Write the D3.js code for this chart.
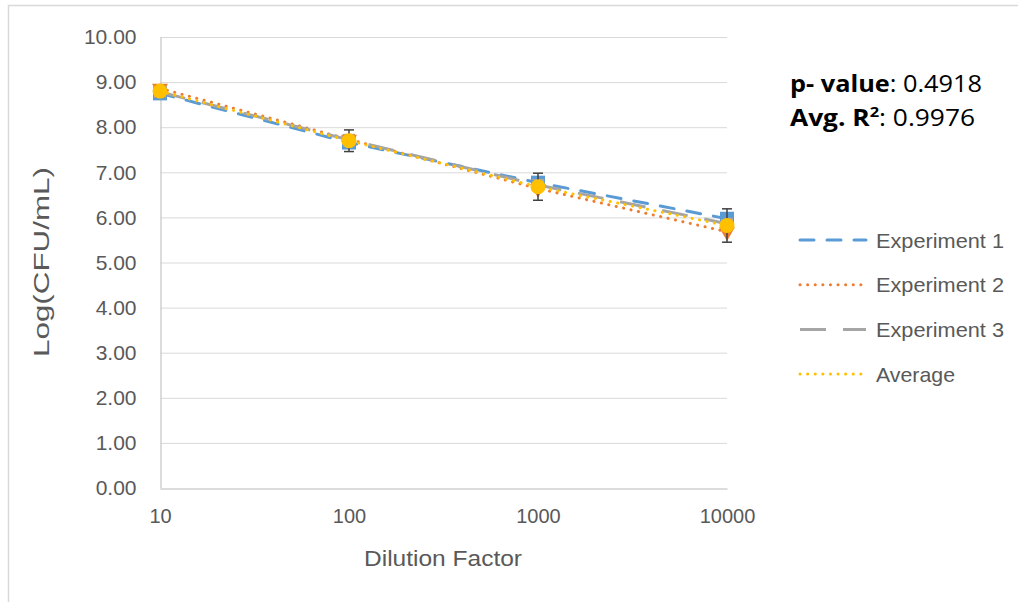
<!DOCTYPE html>
<html>
<head>
<meta charset="utf-8">
<script src="https://cdn.jsdelivr.net/npm/d3@7"></script>
<style>
  html, body { margin: 0; padding: 0; background: #fff; }
  svg { display: block; }
  text { font-family: "Liberation Sans", Arial, sans-serif; }
</style>
</head>
<body>
<svg id="chart" width="1018" height="602"></svg>
<script>
// Dilution factors (x) and log counts for each run
const dilutions = [10, 100, 1000, 10000];
const experiment1 = [8.75, 7.66, 6.77, 5.97];
const experiment2 = [8.86, 7.73, 6.64, 5.68];
const experiment3 = [8.78, 7.72, 6.72, 5.86];
const average = [8.80, 7.70, 6.68, 5.82];
const averageError = [0.12, 0.24, 0.30, 0.37];
const yTicks = [0, 1, 2, 3, 4, 5, 6, 7, 8, 9, 10];
const xTicks = [10, 100, 1000, 10000];
const seriesNames = ["Experiment 1", "Experiment 2", "Experiment 3", "Average"];
const statLines = [
  { bold: "p- value", sup: "", rest: ": 0.4918" },
  { bold: "Avg. R", sup: "2", rest: ": 0.9976" }
];

const svg = d3.select("#chart");

// outer chart frame (only left and top edges fall inside the view)
svg.append("path")
  .attr("d", "M8.5,700 L8.5,5.5 L1100,5.5")
  .attr("fill", "none").attr("stroke", "#d9d9d9").attr("stroke-width", 1.5);

const x = d3.scaleLog().domain([10, 10000]).range([160, 727]);
const y = d3.scaleLinear().domain([0, 10]).range([488, 37]);

// horizontal gridlines
svg.append("g").selectAll("line").data(yTicks.filter(d => d > 0)).join("line")
  .attr("x1", 160).attr("x2", 727)
  .attr("y1", d => y(d) + 0.5).attr("y2", d => y(d) + 0.5)
  .attr("stroke", "#d9d9d9").attr("stroke-width", 1);

// axes
const yAxis = d3.axisLeft(y).tickValues(yTicks).tickFormat(d3.format(".2f")).tickSize(0).tickPadding(24);
const gy = svg.append("g").attr("transform", "translate(160.5,0)").call(yAxis);
gy.select(".domain").attr("stroke", "#d0d0d0").attr("stroke-width", 1.5);
gy.selectAll("text").attr("fill", "#595959").style("font-size", "21px")
  .style("font-family", "'Liberation Sans', Arial, sans-serif");

const xAxis = d3.axisBottom(x).tickValues(xTicks).tickFormat(d3.format("d")).tickSize(0).tickPadding(20);
const gx = svg.append("g").attr("transform", "translate(0,488.5)").call(xAxis);
gx.select(".domain").attr("stroke", "#d0d0d0").attr("stroke-width", 1.5);
gx.selectAll("text").attr("fill", "#595959").style("font-size", "20px")
  .style("font-family", "'Liberation Sans', Arial, sans-serif");

// axis titles
svg.append("text")
  .attr("transform", "translate(49,262) rotate(-90)")
  .attr("text-anchor", "middle").attr("fill", "#595959").style("font-size", "22px")
  .attr("textLength", 190).attr("lengthAdjust", "spacingAndGlyphs")
  .text("Log(CFU/mL)");
svg.append("text")
  .attr("x", 443).attr("y", 566)
  .attr("text-anchor", "middle").attr("fill", "#595959").style("font-size", "22px")
  .attr("textLength", 158).attr("lengthAdjust", "spacingAndGlyphs")
  .text("Dilution Factor");

// series styles
const styles = [
  { color: "#5b9bd5", width: 3, dash: "14 13", cap: "round" },
  { color: "#ed7d31", width: 3, dash: "0.1 7.5", cap: "round" },
  { color: "#a5a5a5", width: 3, dash: "26 17", cap: "butt" },
  { color: "#ffc000", width: 3, dash: "0.1 7.5", cap: "round" }
];
const allSeries = [experiment1, experiment2, experiment3, average];

const line = d3.line().x(d => x(d[0])).y(d => y(d[1]));

// markers
const mk = svg.append("g");
// Experiment 1: squares
mk.selectAll("rect.e1").data(d3.zip(dilutions, experiment1)).join("rect")
  .attr("x", d => x(d[0]) - 7).attr("y", d => y(d[1]) - 7)
  .attr("width", 14).attr("height", 14).attr("fill", "#5b9bd5");
// Experiment 3: squares (grey)
mk.selectAll("rect.e3").data(d3.zip(dilutions, experiment3)).join("rect")
  .attr("class", "e3")
  .attr("x", d => x(d[0]) - 6).attr("y", d => y(d[1]) - 6)
  .attr("width", 12).attr("height", 12).attr("fill", "#a5a5a5");
// Experiment 2: triangles
mk.selectAll("path.e2").data(d3.zip(dilutions, experiment2)).join("path")
  .attr("transform", d => `translate(${x(d[0])},${y(d[1])}) rotate(180)`)
  .attr("d", d3.symbol(d3.symbolTriangle, 110)()).attr("fill", "#ed7d31");

// connecting lines
allSeries.forEach((s, i) => {
  svg.append("path").datum(d3.zip(dilutions, s))
    .attr("d", line).attr("fill", "none")
    .attr("stroke", styles[i].color).attr("stroke-width", styles[i].width)
    .attr("stroke-dasharray", styles[i].dash).attr("stroke-linecap", styles[i].cap);
});

// average error bars
const eb = svg.append("g").attr("stroke", "#404040").attr("stroke-width", 1.5);
d3.zip(dilutions, average, averageError).forEach(([dx, v, e]) => {
  const cx = x(dx);
  eb.append("line").attr("x1", cx).attr("x2", cx).attr("y1", y(v + e)).attr("y2", y(v - e));
  eb.append("line").attr("x1", cx - 5).attr("x2", cx + 5).attr("y1", y(v + e)).attr("y2", y(v + e));
  eb.append("line").attr("x1", cx - 5).attr("x2", cx + 5).attr("y1", y(v - e)).attr("y2", y(v - e));
});

// Average: circles
svg.append("g").selectAll("circle").data(d3.zip(dilutions, average)).join("circle")
  .attr("cx", d => x(d[0])).attr("cy", d => y(d[1])).attr("r", 7.5).attr("fill", "#ffc000");

// statistics
const statWidths = [192, 185];
const st = svg.append("g");
statLines.forEach((s, i) => {
  const t = st.append("text").attr("x", 790).attr("y", 92 + i * 34)
    .attr("fill", "#000").style("font-size", "24px")
    .attr("textLength", statWidths[i]).attr("lengthAdjust", "spacingAndGlyphs")
    .style("font-family", "'Open Sans', 'Liberation Sans', sans-serif");
  t.append("tspan").attr("font-weight", "bold").text(s.bold);
  if (s.sup) t.append("tspan").attr("font-weight", "bold").attr("dy", -9).style("font-size", "15px").text(s.sup);
  t.append("tspan").attr("dy", s.sup ? 9 : 0).text(s.rest);
});

// legend
const legendWidths = [128, 128, 128, 79];
const lg = svg.append("g");
seriesNames.forEach((n, i) => {
  const yy = 240 + i * 44.7;
  lg.append("line").attr("x1", 800).attr("x2", 866).attr("y1", yy).attr("y2", yy)
    .attr("stroke", styles[i].color).attr("stroke-width", styles[i].width)
    .attr("stroke-dasharray", styles[i].dash).attr("stroke-linecap", styles[i].cap);
  lg.append("text").attr("x", 876).attr("y", yy + 7.5).attr("fill", "#595959")
    .style("font-size", "21px")
    .attr("textLength", legendWidths[i]).attr("lengthAdjust", "spacingAndGlyphs")
    .text(n);
});
</script>
</body>
</html>
